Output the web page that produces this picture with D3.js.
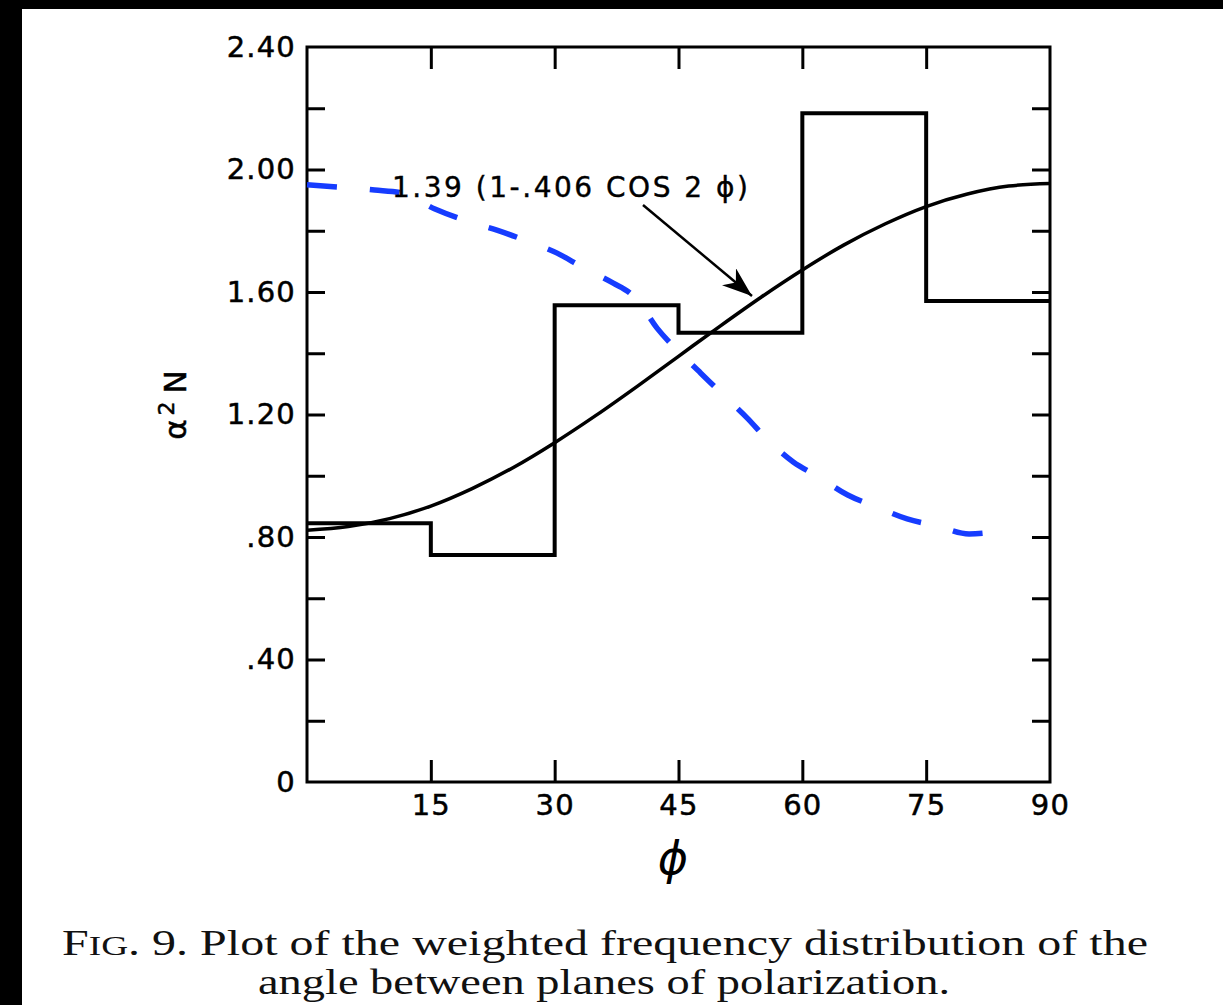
<!DOCTYPE html>
<html>
<head>
<meta charset="utf-8">
<script src="https://cdn.jsdelivr.net/npm/d3@7"></script>
<style>
  body { margin: 0; background: #fff; }
  svg { display: block; }
</style>
</head>
<body>
<div class="container"></div>
<script>
// histogram bins (phi, degrees) and weighted frequency
const binEdges = [0, 15, 30, 45, 60, 75, 90];
const binValues = [0.845, 0.741, 1.557, 1.467, 2.184, 1.571];

// solid fitted curve
const fitPhi = [0, 5, 10, 15, 20, 25, 30, 35, 40, 45, 50, 55, 60, 65, 70, 75, 80, 85, 90];
const fitVals = [0.822, 0.834, 0.86, 0.901, 0.958, 1.027, 1.108, 1.197, 1.292, 1.39, 1.488, 1.583, 1.672, 1.753, 1.822, 1.879, 1.92, 1.946, 1.954];

// blue dashed curve
const dashPhi = [0, 4, 8.2, 11.6, 15.5, 19, 23, 26.3, 30.3, 33.3, 37.1, 39.1, 40, 42.4, 44.8, 47.7, 50.4, 53.3, 55.8, 58.9, 62, 65.5, 69, 72.7, 76.3, 80.2, 83.1];
const dashVals = [1.95, 1.942, 1.933, 1.923, 1.871, 1.835, 1.802, 1.77, 1.727, 1.682, 1.629, 1.597, 1.574, 1.482, 1.411, 1.335, 1.264, 1.189, 1.117, 1.045, 0.996, 0.937, 0.898, 0.859, 0.836, 0.81, 0.816];

const xTicks = [15, 30, 45, 60, 75, 90];
const yTicks = [0.2, 0.4, 0.6, 0.8, 1.0, 1.2, 1.4, 1.6, 1.8, 2.0, 2.2];
const yLabelTicks = [0, 0.4, 0.8, 1.2, 1.6, 2.0, 2.4];
const yLabelText = ["0", ".40", ".80", "1.20", "1.60", "2.00", "2.40"];

const W = 1223, H = 1005;
const margin = { top: 47, left: 307, right: 173, bottom: 223 };
const iw = W - margin.left - margin.right, ih = H - margin.top - margin.bottom;

const x = d3.scaleLinear().domain([0, 90]).range([0, iw]);
const y = d3.scaleLinear().domain([0, 2.4]).range([ih, 0]);

const svg = d3.select(".container").append("svg")
  .attr("width", W).attr("height", H)
  .attr("viewBox", [0, 0, W, H]);

svg.append("rect").attr("width", W).attr("height", H).attr("fill", "#fff");
// scan edges
svg.append("rect").attr("x", 0).attr("y", 0).attr("width", 22).attr("height", H).attr("fill", "#000");
svg.append("rect").attr("x", 0).attr("y", 0).attr("width", W).attr("height", 9).attr("fill", "#000");

const g = svg.append("g").attr("transform", `translate(${margin.left},${margin.top})`);

const tickFont = "DejaVu Sans, sans-serif";

// axes (inward ticks)
g.append("g")
  .call(d3.axisLeft(y).tickValues(yTicks).tickSize(-18).tickFormat(""));
g.append("g").attr("transform", `translate(${iw},0)`)
  .call(d3.axisRight(y).tickValues(yTicks).tickSize(-18).tickFormat(""));
g.append("g")
  .call(d3.axisTop(x).tickValues(xTicks.slice(0, 5)).tickSize(-22).tickFormat(""));
g.append("g").attr("transform", `translate(0,${ih})`)
  .call(d3.axisBottom(x).tickValues(xTicks).tickSize(0).tickPadding(12)
    .tickFormat(d3.format("d")));
g.append("g").attr("transform", `translate(0,${ih})`)
  .call(d3.axisBottom(x).tickValues(xTicks.slice(0, 5)).tickSize(-22).tickFormat(""));
g.append("g")
  .call(d3.axisLeft(y).tickValues(yLabelTicks).tickSize(0).tickPadding(11)
    .tickFormat((d, i) => yLabelText[i]));

g.selectAll(".domain").remove();
g.selectAll(".tick line").attr("stroke", "#000").attr("stroke-width", 3);
g.selectAll(".tick text")
  .attr("font-family", tickFont).attr("font-size", 29)
  .attr("letter-spacing", 1.2).attr("fill", "#000")
  .attr("stroke", "#000").attr("stroke-width", 0.5);

// frame
g.append("rect").attr("width", iw).attr("height", ih)
  .attr("fill", "none").attr("stroke", "#000").attr("stroke-width", 3);

// histogram
const stepData = binValues.map((v, i) => ({ phi: binEdges[i], v }));
stepData.push({ phi: 90, v: binValues[binValues.length - 1] });
g.append("path").datum(stepData)
  .attr("fill", "none").attr("stroke", "#000").attr("stroke-width", 4)
  .attr("d", d3.line().x(d => x(d.phi)).y(d => y(d.v)).curve(d3.curveStepAfter));

// fitted curve
g.append("path").datum(fitPhi.map((p, i) => ({ phi: p, v: fitVals[i] })))
  .attr("fill", "none").attr("stroke", "#000").attr("stroke-width", 3.5)
  .attr("d", d3.line().x(d => x(d.phi)).y(d => y(d.v)).curve(d3.curveMonotoneX));

// blue dashed curve
g.append("path").datum(dashPhi.map((p, i) => ({ phi: p, v: dashVals[i] })))
  .attr("fill", "none").attr("stroke", "#163cff").attr("stroke-width", 5.5)
  .attr("stroke-dasharray", "30,33")
  .attr("d", d3.line().x(d => x(d.phi)).y(d => y(d.v)).curve(d3.curveMonotoneX));

// annotation arrow
svg.append("defs").append("marker")
  .attr("id", "head").attr("viewBox", "0 0 10 10")
  .attr("refX", 10).attr("refY", 5)
  .attr("markerWidth", 30).attr("markerHeight", 22)
  .attr("markerUnits", "userSpaceOnUse")
  .attr("preserveAspectRatio", "none")
  .attr("orient", "auto")
  .append("path").attr("d", "M0,0 L10,5 L0,10 L3,5 Z").attr("fill", "#000");

g.append("line")
  .attr("x1", x(40.7)).attr("y1", y(1.884))
  .attr("x2", x(53.9)).attr("y2", y(1.587))
  .attr("stroke", "#000").attr("stroke-width", 2.5)
  .attr("marker-end", "url(#head)");

g.append("text")
  .attr("x", x(10.3)).attr("y", y(1.91))
  .attr("font-family", tickFont).attr("font-size", 28)
  .attr("stroke", "#000").attr("stroke-width", 0.4)
  .attr("textLength", 356).attr("lengthAdjust", "spacing")
  .text("1.39 (1-.406 COS 2 ϕ)");

// axis titles
svg.append("text")
  .attr("transform", "translate(186,405) rotate(-90)")
  .attr("text-anchor", "middle")
  .attr("font-family", tickFont).attr("font-size", 31)
  .attr("stroke", "#000").attr("stroke-width", 0.5)
  .call(t => {
    t.append("tspan").text("α");
    t.append("tspan").attr("dy", -12).attr("dx", 4).attr("font-size", 22).text("2");
    t.append("tspan").attr("dy", 12).attr("dx", 8).text("N");
  });

svg.append("text")
  .attr("x", 673).attr("y", 874)
  .attr("text-anchor", "middle")
  .attr("font-family", tickFont).attr("font-size", 46)
  .attr("font-style", "italic")
  .text("ϕ");

// caption
const cap = svg.append("g").attr("font-family", "Liberation Serif, serif").attr("fill", "#111");
cap.append("text")
  .attr("x", 62).attr("y", 955)
  .attr("font-size", 36)
  .attr("textLength", 1086).attr("lengthAdjust", "spacingAndGlyphs")
  .call(t => {
    t.append("tspan").text("F");
    t.append("tspan").attr("font-size", 28).text("IG");
    t.append("tspan").text(". 9. Plot of the weighted frequency distribution of the");
  });
cap.append("text")
  .attr("x", 258).attr("y", 994)
  .attr("font-size", 36)
  .attr("textLength", 692).attr("lengthAdjust", "spacingAndGlyphs")
  .text("angle between planes of polarization.");
</script>
</body>
</html>
